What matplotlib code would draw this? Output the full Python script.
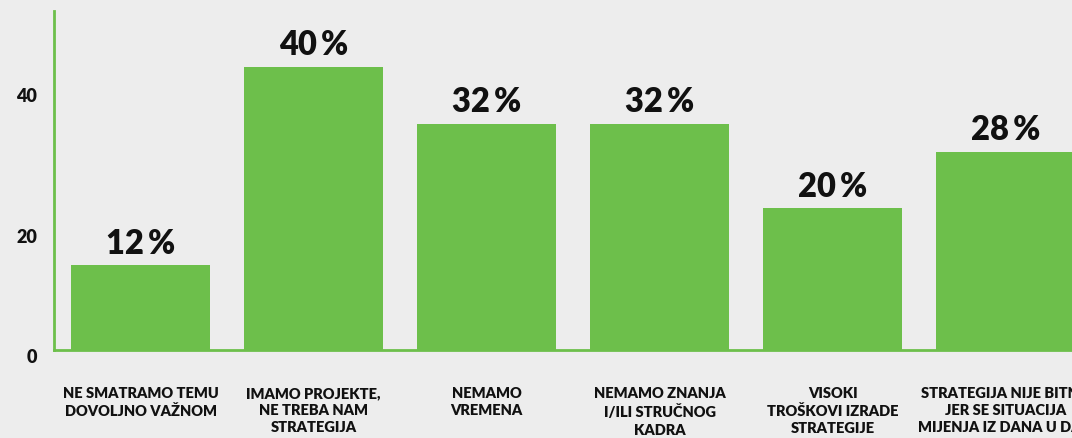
import matplotlib
matplotlib.use("Agg")
import matplotlib.pyplot as plt
from matplotlib.transforms import ScaledTranslation

categories = [
    "NE SMATRAMO TEMU\nDOVOLJNO VAŽNOM",
    "IMAMO PROJEKTE,\nNE TREBA NAM\nSTRATEGIJA",
    "NEMAMO\nVREMENA",
    "NEMAMO ZNANJA\nI/ILI STRUČNOG\nKADRA",
    "VISOKI\nTROŠKOVI IZRADE\nSTRATEGIJE",
    "STRATEGIJA NIJE BITNA\nJER SE SITUACIJA\nMIJENJA IZ DANA U DAN",
]
values = [12, 40, 32, 32, 20, 28]
y_ticks = [0, 20, 40]
y_tick_labels = ["0", "20", "40"]

GREEN = "#6dbf4b"
BG = "#ededed"
TXT = "#111111"
FONT = ["Lato", "DejaVu Sans"]

plt.rcParams["font.family"] = FONT

fig = plt.figure(figsize=(10.72, 4.38), dpi=100, facecolor=BG)
ax = fig.add_axes([54 / 1072, 88 / 438, 1 - 54 / 1072, (350 - 11) / 438])
ax.set_facecolor(BG)

x = list(range(len(values)))
bars = ax.bar(x, values, width=0.8035, color=GREEN, zorder=2)
ax.bar_label(bars, labels=[f"{v}\u2009%" for v in values], padding=4,
             fontsize=23.5, fontweight="heavy", color=TXT)

ax.set_xlim(-0.5, 5.384)
ax.set_ylim(0, 47.9)

for s in ["top", "right"]:
    ax.spines[s].set_visible(False)
for s in ["left", "bottom"]:
    ax.spines[s].set_color(GREEN)
    ax.spines[s].set_linewidth(2)

ax.set_xticks(x)
ax.set_xticklabels(categories, fontsize=10.5, fontweight="heavy", color=TXT,
                   linespacing=1.38)
ax.tick_params(axis="x", length=0, pad=26.5)
ax.set_yticks(y_ticks)
ax.set_yticklabels(y_tick_labels, fontsize=13, fontweight="heavy", color=TXT)
ax.tick_params(axis="y", length=0, pad=12)

offsets_px = [6, 27.5, 28]
for lab, off in zip(ax.get_yticklabels(), offsets_px):
    lab.set_transform(lab.get_transform() +
                      ScaledTranslation(0, -off / 100, fig.dpi_scale_trans))

fig.savefig("out.png", dpi=100, facecolor=BG)
